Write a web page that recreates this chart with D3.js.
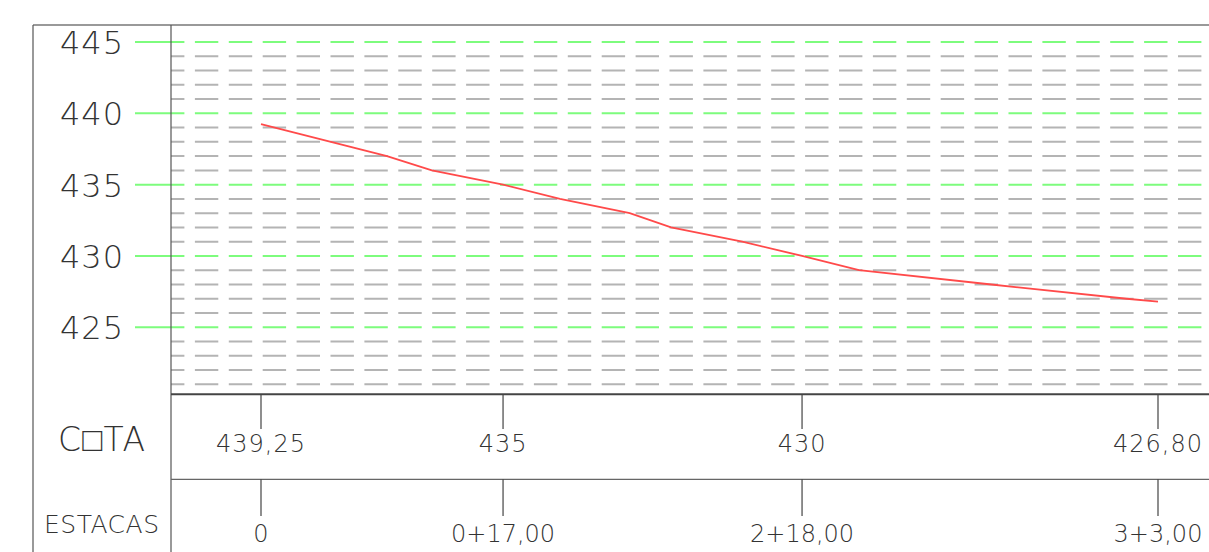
<!DOCTYPE html>
<html>
<head>
<meta charset="utf-8">
<script src="https://cdn.jsdelivr.net/npm/d3@7"></script>
<style>
  body { margin: 0; background: #fff; }
  text { font-family: "DejaVu Sans", sans-serif; font-weight: 200; fill: #333; }
</style>
</head>
<body>
<div id="perfil"></div>
<script>
// Perfil longitudinal - dados lidos do desenho
// distancia (m) e cota do terreno
var distancias = [0, 8.85, 12, 17, 21, 25.9, 28.8, 33.8, 38, 42, 51.3, 60.8, 63];
var cotas = [439.25, 437, 436, 435, 434, 433, 432, 431, 430, 429, 428, 427, 426.8];

// linhas da grade (de 1 em 1 m) e rotulos do eixo
var gradeCotas = d3.range(421, 446);
var rotulosCota = [445, 440, 435, 430, 425];

// tabela de baixo
var estacasDist = [0, 17, 38, 63];
var estacasCota = ["439,25", "435", "430", "426,80"];
var estacasNome = ["0", "0+17,00", "2+18,00", "3+3,00"];

const width = 1209, height = 552;

var svg = d3.select("#perfil")
  .append("svg")
  .attr("width", width)
  .attr("height", height);

// escalas
var x = d3.scaleLinear().domain([0, 63]).range([261, 1158]);
var y = d3.scaleLinear().domain([420, 445]).range([398.6, 42]);

var xSep = 171, yEixo = 394.3, yLinha2 = 479.3;

// grade
var grade = svg.append("g");
grade.selectAll("line")
  .data(gradeCotas)
  .join("line")
  .attr("x1", xSep)
  .attr("x2", width)
  .attr("y1", d => y(d))
  .attr("y2", d => y(d))
  .style("stroke", d => d % 5 == 0 ? "#7dfc7d" : "#b4b4b4")
  .style("stroke-width", 2)
  .style("stroke-dasharray", "23.4 10.5")
  .style("stroke-dashoffset", 10);

// pedaco verde solido ate os rotulos
grade.selectAll(".marca")
  .data(rotulosCota)
  .join("line")
  .attr("class", "marca")
  .attr("x1", 135)
  .attr("x2", xSep)
  .attr("y1", d => y(d))
  .attr("y2", d => y(d))
  .style("stroke", "#7dfc7d")
  .style("stroke-width", 2);

// rotulos do eixo y
svg.append("g").selectAll("text")
  .data(rotulosCota)
  .join("text")
  .attr("x", 124)
  .attr("y", d => y(d) + 12)
  .attr("text-anchor", "end")
  .style("font-size", "32px")
  .style("letter-spacing", "1px")
  .text(d => d);

// moldura
var moldura = svg.append("g").style("fill", "none");
moldura.append("line").attr("x1", 33).attr("x2", width).attr("y1", 25).attr("y2", 25)
  .style("stroke", "#777").style("stroke-width", 1.6);
moldura.append("line").attr("x1", 33).attr("x2", 33).attr("y1", 25).attr("y2", height)
  .style("stroke", "#555").style("stroke-width", 1.2);
moldura.append("line").attr("x1", xSep).attr("x2", xSep).attr("y1", 25).attr("y2", height)
  .style("stroke", "#555").style("stroke-width", 1.2);
moldura.append("line").attr("x1", xSep).attr("x2", width).attr("y1", yEixo).attr("y2", yEixo)
  .style("stroke", "#444").style("stroke-width", 2);
moldura.append("line").attr("x1", xSep).attr("x2", width).attr("y1", yLinha2).attr("y2", yLinha2)
  .style("stroke", "#666").style("stroke-width", 1.2);

// perfil do terreno
var linha = d3.line()
  .x((d, i) => x(distancias[i]))
  .y(d => y(d));

svg.append("path")
  .datum(cotas)
  .attr("d", linha)
  .style("fill", "none")
  .style("stroke", "#ff4a4a")
  .style("stroke-width", 1.8);

// tabela: tracos e textos
var tab = svg.append("g");
tab.selectAll(".t1")
  .data(estacasDist)
  .join("line")
  .attr("class", "t1")
  .attr("x1", d => x(d)).attr("x2", d => x(d))
  .attr("y1", yEixo).attr("y2", 429)
  .style("stroke", "#444").style("stroke-width", 1.2);
tab.selectAll(".t2")
  .data(estacasDist)
  .join("line")
  .attr("class", "t2")
  .attr("x1", d => x(d)).attr("x2", d => x(d))
  .attr("y1", yLinha2).attr("y2", 516)
  .style("stroke", "#444").style("stroke-width", 1.2);

tab.selectAll(".c")
  .data(estacasDist)
  .join("text")
  .attr("class", "c")
  .attr("x", d => x(d))
  .attr("y", 452)
  .attr("text-anchor", "middle")
  .style("font-size", "24px")
  .style("letter-spacing", "1px")
  .text((d, i) => estacasCota[i]);

tab.selectAll(".e")
  .data(estacasDist)
  .join("text")
  .attr("class", "e")
  .attr("x", d => x(d))
  .attr("y", 541.5)
  .attr("text-anchor", "middle")
  .style("font-size", "24px")
  .text((d, i) => estacasNome[i]);

// titulos das linhas da tabela
svg.append("text")
  .attr("x", 58).attr("y", 451)
  .attr("textLength", 87).attr("lengthAdjust", "spacing")
  .style("font-size", "33px")
  .text("C\u25A1TA");
svg.append("text")
  .attr("x", 44).attr("y", 533)
  .attr("textLength", 115).attr("lengthAdjust", "spacing")
  .style("font-size", "25px")
  .text("ESTACAS");
</script>
</body>
</html>
